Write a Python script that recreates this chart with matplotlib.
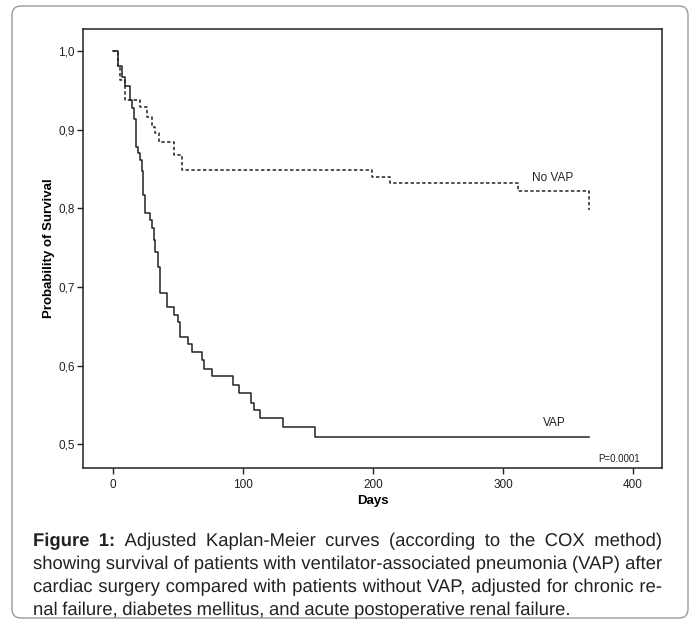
import matplotlib
matplotlib.use('Agg')
import matplotlib.pyplot as plt
import matplotlib.patheffects as pe
from matplotlib.patches import FancyBboxPatch
from matplotlib.transforms import IdentityTransform

# =============================================================================
# Data (step curves, days vs survival)
# =============================================================================
vap_days = [0, 3.5, 6.9, 8.9, 12.8, 14.6, 16.4, 17.8, 19.2, 21.0, 22.3, 23.2,
            24.5, 28.7, 30.0, 31.2, 32.5, 34.3, 35.8, 41.5, 46.6, 49.7, 51.2,
            57.4, 60.8, 68.5, 70.2, 76.2, 92.0, 96.6, 106.2, 108.7, 113.3,
            130.8, 155.0, 366]
vap_surv = [1.0, 0.981, 0.967, 0.955, 0.938, 0.927, 0.913, 0.878, 0.870, 0.861,
            0.847, 0.817, 0.794, 0.785, 0.775, 0.760, 0.745, 0.726, 0.692,
            0.675, 0.664, 0.656, 0.637, 0.628, 0.618, 0.607, 0.596, 0.587,
            0.576, 0.565, 0.553, 0.544, 0.533, 0.522, 0.510, 0.510]

novap_days = [0, 3.5, 5.0, 9.5, 21.0, 26.2, 30.0, 32.5, 35.1, 46.6, 53.0,
              199.2, 212.8, 311.5, 366]
novap_surv = [1.0, 0.981, 0.963, 0.938, 0.929, 0.916, 0.904, 0.896, 0.885,
              0.868, 0.849, 0.840, 0.832, 0.822, 0.798]

x_ticks = [0, 100, 200, 300, 400]
y_ticks = [0.5, 0.6, 0.7, 0.8, 0.9, 1.0]
y_ticklabels = ['0,5', '0,6', '0,7', '0,8', '0,9', '1,0']

caption_lines = [
    "Figure 1: Adjusted Kaplan-Meier curves (according to the COX method)",
    "showing survival of patients with ventilator-associated pneumonia (VAP) after",
    "cardiac surgery compared with patients without VAP, adjusted for chronic re-",
    "nal failure, diabetes mellitus, and acute postoperative renal failure.",
]

W, H = 694, 624
plt.rcParams['font.family'] = ['Liberation Sans', 'DejaVu Sans']

fig = plt.figure(figsize=(W / 100, H / 100), dpi=100)
fig.patch.set_facecolor('white')

# rounded frame around the whole figure panel
frame = FancyBboxPatch((12, 6), 676, 612, boxstyle='round,pad=0,rounding_size=9',
                       transform=IdentityTransform(), facecolor='none',
                       edgecolor='#9a9a9a', linewidth=1.0)
fig.patches.append(frame)

# axes box in pixel terms: left 83, right 662, top 29, bottom 468
ax = fig.add_axes([83 / W, 1 - 468 / H, (662 - 83) / W, (468 - 29) / H])

ax.step(vap_days, vap_surv, where='post', color='#222222', lw=1.1)
ax.step(novap_days, novap_surv, where='post', color='#222222', lw=1.1,
        linestyle=(0, (2.2, 1.6)))

ax.set_xlim(-23.1, 422.3)
ax.set_ylim(0.470, 1.028)
ax.set_xticks(x_ticks)
ax.set_yticks(y_ticks)
ax.set_yticklabels(y_ticklabels)
ax.tick_params(direction='out', length=4.5, width=1.0, labelsize=8.5,
               top=False, right=False, colors='#222222')
ax.tick_params(axis='y', pad=1.5)
ax.tick_params(axis='x', pad=3.5)
for s in ax.spines.values():
    s.set_linewidth(1.1)
    s.set_color('#222222')

ax.set_xlabel('Days', fontsize=9.5, fontweight='bold', labelpad=3)
ax.set_ylabel('Probability of Survival', fontsize=9.5, fontweight='bold', labelpad=2.5)

ax.text(338.5, 0.839, 'No VAP', fontsize=8.5, ha='center', va='center', color='#222222')
ax.text(339.2, 0.527, 'VAP', fontsize=8.5, ha='center', va='center', color='#222222')
ax.text(389.3, 0.482, 'P=0.0001', fontsize=7, ha='center', va='center', color='#222222')

# caption, justified like the journal layout; words drawn through a path
# effect so every word sits on exactly the same baseline
renderer = fig.canvas.get_renderer()
cap_size = 13.3
x0, x1 = 33, 662
baselines = [546, 569, 592, 615]


def put_line(line, y, justify, n_bold):
    words = line.split(' ')
    texts = []
    for i, w in enumerate(words):
        t = fig.text(0, 1 - y / H, w, fontsize=cap_size,
                     fontweight='bold' if i < n_bold else 'normal',
                     va='baseline', ha='left', color='#222222',
                     path_effects=[pe.Normal()])
        texts.append(t)
    widths = [t.get_window_extent(renderer).width for t in texts]
    if justify and len(words) > 1:
        gap = (x1 - x0 - sum(widths)) / (len(words) - 1)
    else:
        gap = cap_size * 100 / 72 * 0.25
    x = x0
    for t, wd in zip(texts, widths):
        t.set_x(x / W)
        x += wd + gap


for k, line in enumerate(caption_lines):
    put_line(line, baselines[k], k < len(caption_lines) - 1, 2 if k == 0 else 0)

fig.savefig('out.png', dpi=100)
